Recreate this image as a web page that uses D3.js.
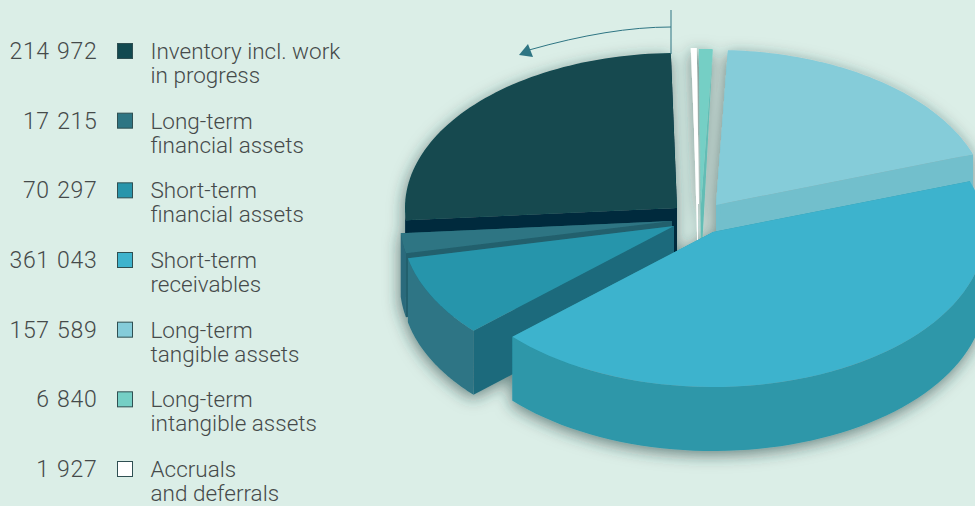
<!DOCTYPE html>
<html>
<head>
<meta charset="utf-8">
<style>
  html, body { margin: 0; padding: 0; background: #dbeee7; overflow: hidden; }
  svg { display: block; }
  text { font-family: Roboto, "Liberation Sans", sans-serif; font-weight: 300; font-size: 22.5px; fill: #454a4a; }
  text.amount { font-size: 23px; letter-spacing: 0.7px; word-spacing: 1px; }
</style>
</head>
<body>
<svg></svg>
<script src="https://cdn.jsdelivr.net/npm/d3@7"></script>
<script>
var svgWidth = 975;
var svgHeight = 506;

/* Chart data, same order as the legend */
var values = [214972, 17215, 70297, 361043, 157589, 6840, 1927];
var labelFirst = ['Inventory incl. work', 'Long-term', 'Short-term', 'Short-term', 'Long-term', 'Long-term', 'Accruals'];
var labelSecond = ['in progress', 'financial assets', 'financial assets', 'receivables', 'tangible assets', 'intangible assets', 'and deferrals'];

/* Styles per slice */
var topColors = ['#124950', '#2e7583', '#2895ab', '#3eb3cd', '#85ccd9', '#75cfc5', '#ffffff'];
var arcWallColors = ['#012b3e', '#2a6b7b', '#2d7585', '#2d97a9', '#72bfcc', '#63bdb5', '#ffffff'];
var edgeWallColors = ['#012b3e', '#24606d', '#1e6b7c', '#2d97a9', '#72bfcc', '#63bdb5', '#ffffff'];

/* Where each exploded slice has its tip */
var tipX = [677, 672, 674, 713, 716, 701, 698];
var tipY = [208, 221, 226, 232, 205, 204, 204];
/* Back slices first */
var drawOrder = [0, 6, 5, 4, 1, 2, 3];
/* The two thin slices have walls that run out to nothing at the rim */
var taperWall = [false, false, false, false, false, true, true];

var radiusX = 272;
var radiusY = 155;
var wallHeight = 64;
var startAngle = 1.3 * Math.PI / 180;

var svg = d3.select('svg')
            .attr('width', svgWidth)
            .attr('height', svgHeight)
            .style('background', '#dbeee7');

var defs = svg.append('defs');
var shadow = defs.append('filter')
                 .attr('id', 'pie-shadow')
                 .attr('filterUnits', 'userSpaceOnUse')
                 .attr('x', 340).attr('y', 0)
                 .attr('width', 700).attr('height', svgHeight);
shadow.append('feDropShadow')
      .attr('dx', -1)
      .attr('dy', 4)
      .attr('stdDeviation', 8)
      .attr('flood-color', '#1f3a3a')
      .attr('flood-opacity', 0.6);

var unitX = d3.scaleLinear().domain([-1, 1]).range([-radiusX, radiusX]);
var unitY = d3.scaleLinear().domain([-1, 1]).range([-radiusY, radiusY]);

var slices = d3.pie()
               .sort(null)
               .startAngle(startAngle)
               .endAngle(startAngle + 2 * Math.PI)(values);

/* Angle runs counter clockwise from 12 o'clock */
function rimPoint(i, angle, drop){
    return [tipX[i] + unitX(-Math.sin(angle)), tipY[i] + unitY(-Math.cos(angle)) + drop];
}

function rimPoints(i, from, to, drop){
    var steps = d3.range(0, 61).map(k => from + (to - from) * k / 60);
    return steps.map(a => rimPoint(i, a, drop));
}

var line = d3.line();
var pie = svg.append('g').attr('filter', 'url(#pie-shadow)');

/* One slice: side walls, then rim wall, then the top */
function drawSlice(i){
    var d = slices[i];
    var g = pie.append('g').attr('class', 'slice');
    var tip = [tipX[i], tipY[i]];
    var tipLow = [tipX[i], tipY[i] + wallHeight];

    [d.startAngle, d.endAngle].forEach(a => {
        var pts = taperWall[i]
            ? [tip, rimPoint(i, a, 0), tipLow]
            : [tip, rimPoint(i, a, 0), rimPoint(i, a, wallHeight), tipLow];
        g.append('path')
         .attr('d', line(pts) + 'Z')
         .attr('fill', edgeWallColors[i]);
    });

    var from = Math.max(d.startAngle, Math.PI / 2);
    var to = Math.min(d.endAngle, 3 * Math.PI / 2);
    if(from < to){
        var wall = rimPoints(i, from, to, 0).concat(rimPoints(i, to, from, wallHeight));
        g.append('path')
         .attr('d', line(wall) + 'Z')
         .attr('fill', arcWallColors[i]);
    }

    var top = [tip].concat(rimPoints(i, d.startAngle, d.endAngle, 0));
    g.append('path')
     .attr('d', line(top) + 'Z')
     .attr('fill', topColors[i])
     .attr('stroke', i === 6 ? '#ffffff' : 'none')
     .attr('stroke-width', i === 6 ? 2 : 0);
}

drawOrder.forEach(i => drawSlice(i));

/* Direction arrow above the pie */
var arrowColor = '#2e7583';
svg.append('line')
   .attr('x1', 671).attr('x2', 671)
   .attr('y1', 10).attr('y2', 54)
   .attr('stroke', arrowColor)
   .attr('stroke-width', 1);

var curve = d3.path();
curve.moveTo(671, 27);
curve.quadraticCurveTo(610, 27, 529, 50);
svg.append('path')
   .attr('d', curve.toString())
   .attr('fill', 'none')
   .attr('stroke', arrowColor)
   .attr('stroke-width', 1);

svg.append('path')
   .attr('d', line([[519, 55], [528, 44], [533, 57]]) + 'Z')
   .attr('fill', arrowColor);

/* Legend */
var numberFormat = d3.formatLocale({decimal: '.', thousands: ' ', grouping: [3], currency: ['', '']}).format(',d');
var rowY = d3.scaleLinear().domain([0, values.length - 1]).range([59, 477]);

var rows = svg.selectAll('.legend-row')
              .data(values)
              .enter()
              .append('g')
              .attr('class', 'legend-row')
              .attr('transform', (d, i) => `translate(0,${rowY(i)})`);

rows.append('text')
    .attr('class', 'amount')
    .attr('x', 97.5)
    .attr('text-anchor', 'end')
    .text(d => numberFormat(d));

rows.append('rect')
    .attr('x', 117.5)
    .attr('y', -15.5)
    .attr('width', 15)
    .attr('height', 15)
    .attr('fill', (d, i) => topColors[i])
    .attr('stroke', '#2f4f52')
    .attr('stroke-width', 1);

rows.append('text')
    .attr('x', 150.5)
    .text((d, i) => labelFirst[i]);

rows.append('text')
    .attr('x', 150.5)
    .attr('y', 24)
    .text((d, i) => labelSecond[i]);
</script>
</body>
</html>
